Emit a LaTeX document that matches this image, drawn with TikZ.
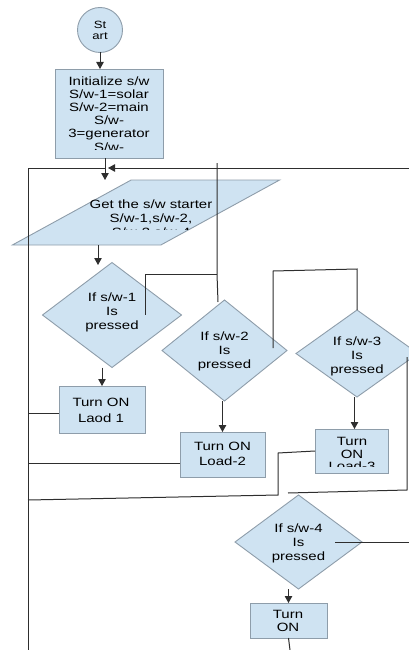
\documentclass[tikz,border=0pt]{standalone}
\usepackage{fontspec}
\setmainfont{Liberation Sans}[FakeStretch=1.25]
\usepackage{tikz}
\usetikzlibrary{arrows.meta}
\usetikzlibrary{shapes.geometric}
\usetikzlibrary{positioning}

\definecolor{boxfill}{HTML}{CFE3F2}
\definecolor{boxline}{HTML}{8E9DAA}
\definecolor{wirecol}{HTML}{2E2E2E}

\tikzset{
  shapebox/.style={draw=boxline, fill=boxfill, line width=0.9pt,
    inner sep=0pt, outer sep=0pt},
  txt/.style={align=center, inner sep=0pt, anchor=north,
    font=\fontsize{12}{#1}\selectfont},
  txt/.default=14,
  wire/.style={draw=wirecol, line width=1pt},
  arr/.style={wire, -{Triangle[width=7.5pt,length=7pt]}}
}

\begin{document}
\begin{tikzpicture}[x=1pt,y=-1pt]
  \useasboundingbox (0,0) rectangle (409,650);

  %start and init
  \node[shapebox, circle, minimum size=45pt] (start) at (100,30) {};
  \node[txt, font=\fontsize{10.5}{10.5}\selectfont] (startt) at (100,21) {St\\art};
  \node[shapebox, minimum width=108pt, minimum height=89pt] (init) at (109,113.5) {};
  \begin{scope}
    \clip (55,69) rectangle (163,149.5);
    \node[txt=13.2] (initt) at (109,76.2)
      {Initialize s/w\\S/w-1=solar\\S/w-2=main\\S/w-\\3=generator\\S/w-};
  \end{scope}

  % input box
  \node[shapebox, trapezium, trapezium left angle=45, trapezium right angle=135,
    trapezium stretches=true, inner sep=2pt, minimum width=268pt, minimum height=65pt]
    (get) at (146,212.5) {\strut};
  \begin{scope}
    \clip (40,180) rectangle (260,229.5);
    \node[txt] (gett) at (151,199.5) {Get the s/w starter\\S/w-1,s/w-2,\\S/w-3,s/w-4};
  \end{scope}

  %decisions
  \foreach \num/\x/\y/\w/\h/\t in
    {1/112/315/139/105/292.5,2/224.5/350.5/125/101/331.5,
     3/357/353.5/122/87/336.5,4/298.5/542/127/94/523.5}
    {
      \node[shapebox, diamond, minimum width=\w pt, minimum height=\h pt]
        (d\num) at (\x,\y) {};
      \node[txt] (d\num t) at (\x,\t) {If s/w-\num\\Is\\pressed};
    }

  %loads
  \node[shapebox, minimum width=86pt, minimum height=47pt] (r1) at (102,409.5) {};
  \node[txt=16] (r1t) at (101,397.5) {Turn ON\\Laod 1};
  \node[shapebox, minimum width=85pt, minimum height=45pt] (r2) at (222.5,454.5) {};
  \node[txt=15] (r2t) at (222.5,441.5) {Turn ON\\Load-2};
  \node[shapebox, minimum width=73pt, minimum height=44pt] (r3) at (351.5,451) {};
  \begin{scope}
    \clip (315,429) rectangle (388,466);
    \node[txt=12.5] (r3t) at (352,437.5) {Turn\\ON\\Load-3};
  \end{scope}
  \node[shapebox, minimum width=77pt, minimum height=35pt] (r4) at (288.5,620.5) {};
  \node[txt=13] (r4t) at (288,610.5) {Turn\\ON};

  % wires
  \coordinate (loopL) at (28,168);
  \coordinate (loopJ) at (105,168);
  \coordinate (loopT) at (108,168);
  \coordinate (loopR) at (409,168);
  \coordinate (railB) at (28,650);
  \coordinate (getIn) at (105,180);
  \coordinate (d1In) at (98,265);
  \coordinate (vTop) at (217,163);
  \coordinate (vMid) at (217,274);
  \coordinate (vBot) at (218,302);
  \coordinate (b1a) at (145,274);
  \coordinate (b1b) at (145,315);
  \coordinate (c2a) at (273,348);
  \coordinate (c2b) at (273,271);
  \coordinate (c2c) at (357,269);
  \coordinate (r3a) at (278,453);
  \coordinate (r3b) at (278,495);
  \coordinate (r3c) at (28,500);
  \coordinate (d3a) at (407,357);
  \coordinate (d3b) at (407,490);
  \coordinate (d3c) at (288,493);
  \coordinate (d4a) at (335,542);
  \coordinate (d4b) at (409,542);
  \coordinate (r4b) at (290,650);

  \draw[arr] (start.south) -- (start.south |- init.north);
  \draw[arr] (getIn |- init.south) -- (getIn);
  \draw[arr] (loopR) -- (loopT);
  \draw[wire] (railB) -- (loopL) -- (loopJ);
  \draw[arr] (d1In |- get.south) -- (d1In);
  \draw[wire] (vTop) -- (vMid) -- (vBot);
  \draw[wire] (vMid) -- (b1a) -- (b1b);
  \draw[arr] (r1.north |- d1.south) -- (r1.north);
  \draw[wire] ([yshift=-4pt]r1.west) -- ([yshift=-4pt]r1.west -| loopL);
  \draw[arr] (r2.north |- d2.south) -- (r2.north);
  \draw[wire] ([yshift=-8.5pt]r2.west) -- ([yshift=-8.5pt]r2.west -| loopL);
  \draw[wire] (c2a) -- (c2b) -- (c2c) -- (d3.north);
  \draw[arr] ([xshift=3pt]r3.north |- d3.south) -- ([xshift=3pt]r3.north);
  \draw[wire] (r3.west) -- (r3a) -- (r3b) -- (r3c);
  \draw[wire] (d3a) -- (d3b) -- (d3c);
  \draw[wire] (d4a) -- (d4b);
  \draw[arr] (r4.north |- d4.south) -- (r4.north);
  \draw[wire] (r4.south) -- (r4b);
\end{tikzpicture}
\end{document}
